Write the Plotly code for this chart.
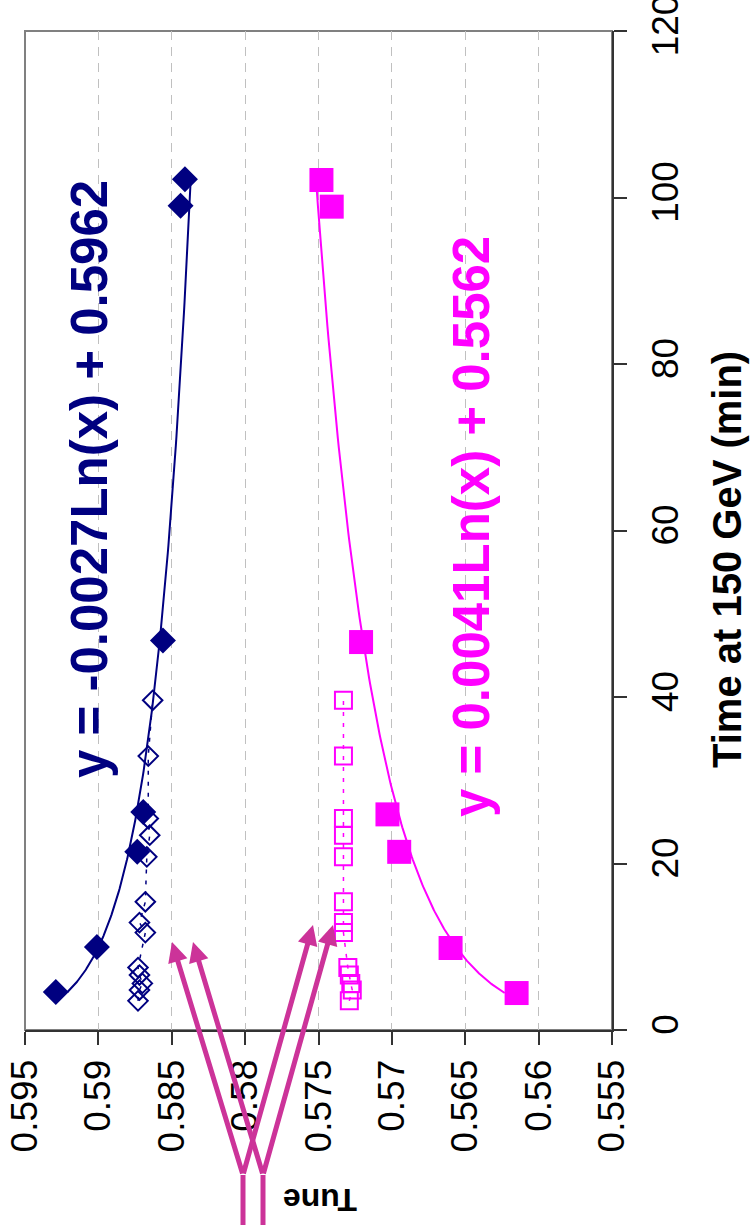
import numpy as np
import plotly.graph_objects as go

# ---- data (time in minutes at 150 GeV, tune) ----
time_blue = [4.56, 9.97, 21.4, 26.2, 46.8, 99.0, 102.2]
tune_blue = [0.5929, 0.5901, 0.58735, 0.58694, 0.5856, 0.5844, 0.5841]

time_mag = [4.44, 9.85, 21.4, 25.9, 46.6, 98.9, 102.1]
tune_mag = [0.5615, 0.5660, 0.5695, 0.5703, 0.5721, 0.5741, 0.5748]

time_open = [3.5, 4.8, 5.6, 6.6, 7.5, 11.7, 12.9, 15.4, 20.8, 23.4, 25.4, 32.9, 39.6]
tune_open_blue = [0.5873, 0.5872, 0.5870, 0.5872, 0.5873, 0.5868, 0.5872,
                  0.5868, 0.5867, 0.5865, 0.5866, 0.5866, 0.5863]
tune_open_mag = [0.5729, 0.5727, 0.5728, 0.5729, 0.5730, 0.5733, 0.5733,
                 0.5733, 0.5733, 0.5733, 0.5733, 0.5733, 0.5733]

# trendline coefficients shown on the chart: y = a*Ln(x) + b
fit_blue_a, fit_blue_b = -0.0027, 0.5962
fit_mag_a, fit_mag_b = 0.0041, 0.5562

tune_ticks = [0.595, 0.59, 0.585, 0.58, 0.575, 0.57, 0.565, 0.56, 0.555]
tune_tick_labels = ["0.595", "0.59", "0.585", "0.58", "0.575", "0.57", "0.565", "0.56", "0.555"]
time_ticks = [0, 20, 40, 60, 80, 100, 120]
time_tick_labels = ["0", "20", "40", "60", "80", "100", "120"]

NAVY = "#000080"
MAG = "#FF00FF"
ARROW = "#CC3399"
FONT = "Liberation Sans, Arial, sans-serif"

fig = go.Figure()

# trendlines
tb = np.geomspace(min(time_blue), max(time_blue), 200)
fig.add_trace(go.Scatter(x=fit_blue_a * np.log(tb) + fit_blue_b, y=tb, mode="lines",
                         line=dict(color=NAVY, width=2), hoverinfo="skip"))
tm = np.geomspace(min(time_mag), max(time_mag), 200)
fig.add_trace(go.Scatter(x=fit_mag_a * np.log(tm) + fit_mag_b, y=tm, mode="lines",
                         line=dict(color=MAG, width=2), hoverinfo="skip"))

# open series
fig.add_trace(go.Scatter(x=tune_open_blue, y=time_open, mode="lines+markers",
                         line=dict(color=NAVY, width=1.5, dash="4px,7px"),
                         marker=dict(symbol="diamond-open", size=15, color=NAVY,
                                     line=dict(color=NAVY, width=2))))
fig.add_trace(go.Scatter(x=tune_open_mag, y=time_open, mode="lines+markers",
                         line=dict(color=MAG, width=1.5, dash="4px,7px"),
                         marker=dict(symbol="square-open", size=17, color=MAG,
                                     line=dict(color=MAG, width=2))))

# filled series
fig.add_trace(go.Scatter(x=tune_blue, y=time_blue, mode="markers",
                         marker=dict(symbol="diamond", size=20, color=NAVY, line=dict(width=0))))
fig.add_trace(go.Scatter(x=tune_mag, y=time_mag, mode="markers",
                         marker=dict(symbol="square", size=24, color=MAG, line=dict(width=0))))

# page body margin is removed below, so figure pixels == page pixels
W, H = 750, 1225
PL, PR, PT, PB = 25, 612, 31, 1030          # plot area in pixels
L, T, R, B = PL, PT, W - PR, H - PB
pw, ph = W - L - R, H - T - B


def px(xp):
    return (xp - PL) / pw


def py(yp):
    return (PB - yp) / ph


def label(text, xp, yp, size, color, angle):
    return dict(text=text, x=px(xp), y=py(yp), xref="paper", yref="paper",
                xanchor="center", yanchor="middle", showarrow=False, textangle=angle,
                font=dict(family=FONT, size=size, color=color, weight="bold"))


annotations = [
    label(f"y = {fit_blue_a}Ln(x) + {fit_blue_b}", 89, 479, 51, NAVY, -90),
    label(f"y = {fit_mag_a}Ln(x) + {fit_mag_b}", 471, 527, 51, MAG, -90),
    label("Time at 150 GeV (min)", 727, 560, 40, "black", -90),
    label("Tune", 320, 1200, 32, "black", 180),
]

# arrows (tip, tail in pixels)
arrows = [((172, 942), (243, 1175)), ((313, 925), (243, 1175)),
          ((193, 942), (263, 1175)), ((333, 925), (263, 1175))]
for (tx, ty), (sx, sy) in arrows:
    annotations.append(dict(text="", x=px(tx), y=py(ty), xref="paper", yref="paper",
                            ax=sx - tx, ay=sy - ty, axref="pixel", ayref="pixel",
                            showarrow=True, arrowhead=2, arrowsize=0.8, arrowwidth=5,
                            arrowcolor=ARROW, standoff=0, startstandoff=0))

shapes = [
    dict(type="rect", xref="paper", yref="paper", x0=0, x1=1, y0=0, y1=1,
         line=dict(color="#808080", width=2), layer="below"),
    dict(type="line", xref="paper", yref="paper", x0=px(243), x1=px(243), y0=py(1175), y1=py(1240),
         line=dict(color=ARROW, width=5)),
    dict(type="line", xref="paper", yref="paper", x0=px(263), x1=px(263), y0=py(1175), y1=py(1240),
         line=dict(color=ARROW, width=5)),
]

fig.update_layout(
    width=W, height=H, margin=dict(l=L, r=R, t=T, b=B, autoexpand=False),
    paper_bgcolor="white", plot_bgcolor="white", showlegend=False,
    font=dict(family=FONT, color="black"),
    annotations=annotations, shapes=shapes,
    xaxis=dict(range=[0.595, 0.555], tickvals=tune_ticks, ticktext=tune_tick_labels,
               tickangle=-90, ticks="outside", ticklen=13, tickwidth=1.5, tickcolor="#333333",
               showline=True, linecolor="#333333", linewidth=2, automargin=False,
               ticklabeloverflow="allow",
               showgrid=True, gridcolor="#C0C0C0", griddash="9px,7px", gridwidth=1,
               zeroline=False, tickfont=dict(size=37, family=FONT, color="black")),
    yaxis=dict(range=[0, 120], tickvals=time_ticks, ticktext=time_tick_labels, side="right",
               tickangle=-90, ticks="outside", ticklen=13, tickwidth=1.5, tickcolor="#333333",
               showline=True, linecolor="#333333", linewidth=2, automargin=False,
               ticklabeloverflow="allow",
               showgrid=False, zeroline=False, ticklabelstandoff=7,
               tickfont=dict(size=37, family=FONT, color="black")),
)

fig.write_html("out.html", config={"displayModeBar": False},
               post_script="document.body.style.margin='0px';")
